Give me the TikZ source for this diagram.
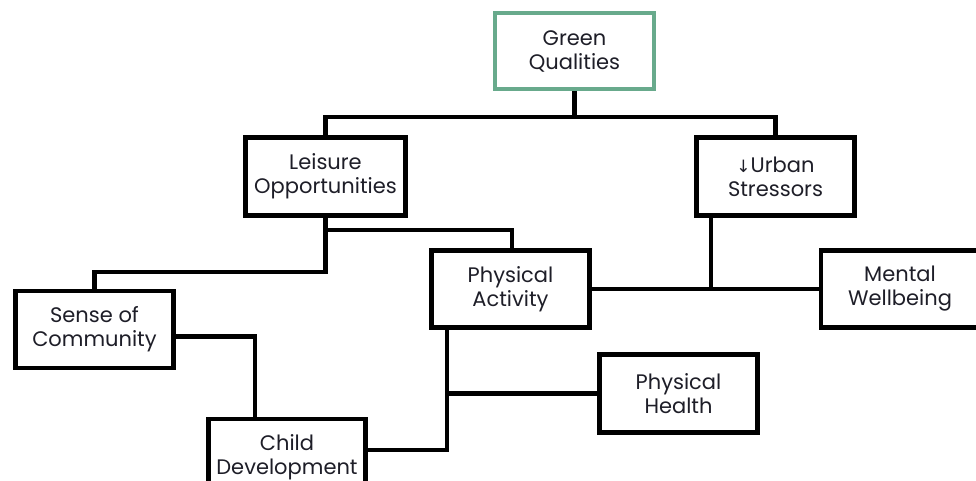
\documentclass[tikz,border=0pt]{standalone}
\usepackage{fontspec}
\setmainfont{Poppins}
\newfontfamily\arrowfont{DejaVu Sans}
\definecolor{boxgreen}{RGB}{104,170,140}
\definecolor{txt}{RGB}{30,30,40}
\begin{document}
\begin{tikzpicture}[x=1pt,y=-1pt,
  box/.style={draw=black,line width=4.5pt,fill=white,minimum width=158pt,minimum height=77pt,
    inner sep=0pt,align=center,text=txt,font=\fontsize{21}{24}\selectfont},
  link/.style={draw=black,line width=4.5pt}]
\useasboundingbox (0,0) rectangle (976,481);
\begin{scope}
\clip (0,0) rectangle (976,481);
\node[box,draw=boxgreen,line width=4pt,minimum width=159pt,minimum height=76pt] (G) at (574.5,51) {Green\\Qualities};
\node[box,minimum width=160pt,minimum height=78pt] (L) at (325.5,176.5) {Leisure\\Opportunities};
\node[box,minimum height=78pt] (U) at (775.5,176.5) {{\arrowfont\fontsize{17}{17}\selectfont↓}Urban\\Stressors};
\node[box] (PA) at (510.5,289) {Physical\\Activity};
\node[box] (M) at (900,289) {Mental\\Wellbeing};
\node[box] (S) at (94.5,329.5) {Sense of\\Community};
\node[box,minimum height=78pt] (PH) at (678.5,393.5) {Physical\\Health};
\node[box,minimum width=157pt,minimum height=76pt] (C) at (287,457) {Child\\Development};
% connectors
\coordinate (bus) at (574.5,117);
\coordinate (lbus) at (325.5,272);
\coordinate (pbus) at (325.5,230);
\coordinate (ux) at (711,0);
\coordinate (px) at (447,0);
\coordinate (sx) at (255,0);
\draw[link] (G.south) -- (bus);
\draw[link] (L.north) |- (bus) -| (U.north);
\draw[link] (L.south) -- (lbus) -| (S.north);
\draw[link] (pbus) -| ([xshift=1.5pt]PA.north);
\draw[link] (U.south -| ux) -- (ux |- PA.east);
\draw[link] (PA.east) -- (M.west);
\draw[link] ([yshift=-7pt]S.east) -| (sx |- C.north);
\draw[link] ([yshift=7pt]C.east) -| (px |- PA.south);
\draw[link] (PH.west) -- (PH.west -| px);
\end{scope}
\end{tikzpicture}
\end{document}
